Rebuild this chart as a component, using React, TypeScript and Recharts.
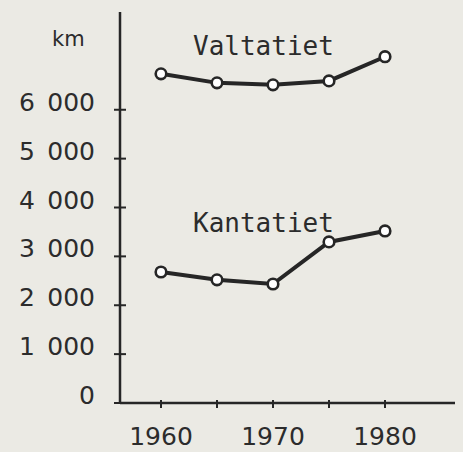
import React from 'react';
import { LineChart, Line, XAxis, YAxis } from 'recharts';

// Years along the bottom axis, values in km
const YEARS = [1960, 1965, 1970, 1975, 1980];
const VALTATIET = [6735, 6550, 6510, 6590, 7085];
const KANTATIET = [2680, 2520, 2435, 3295, 3520];

const Y_TICKS = [0, 1000, 2000, 3000, 4000, 5000, 6000];
const X_TICKS = [1960, 1965, 1970, 1975, 1980];
const X_LABELS = [1960, 1970, 1980];

const INK = '#262626';
const TEXT = '#2c2c2c';
const PAPER = '#ebeae4';

const data = YEARS.map((year, i) => ({
  year,
  valtatiet: VALTATIET[i],
  kantatiet: KANTATIET[i],
}));

// "6 000" style with a wide gap between thousands
const formatKm = (v: number) =>
  v >= 1000 ? `${Math.floor(v / 1000)}\u2002${String(v % 1000).padStart(3, '0')}` : String(v);

const YTick = ({ x, y, payload }: any) => (
  <g>
    <line x1={x - 6} x2={x + 6} y1={y} y2={y} stroke={INK} strokeWidth={2} />
    <text
      x={x - 25}
      y={y + 1}
      textAnchor="end"
      fill={TEXT}
      fontSize={25}
      fontFamily="DejaVu Sans"
    >
      {formatKm(payload.value)}
    </text>
  </g>
);

const XTick = ({ x, y, payload }: any) => (
  <g>
    <line x1={x} x2={x} y1={y - 3} y2={y + 5} stroke={INK} strokeWidth={2} />
    {X_LABELS.includes(payload.value) && (
      <text
        x={x}
        y={y + 42}
        textAnchor="middle"
        fill={TEXT}
        fontSize={25}
        fontFamily="DejaVu Sans"
      >
        {payload.value}
      </text>
    )}
  </g>
);

const labelStyle: React.CSSProperties = {
  position: 'absolute',
  fontFamily: 'DejaVu Sans Mono',
  fontSize: 26,
  lineHeight: '26px',
  color: TEXT,
  whiteSpace: 'pre',
};

export default function App() {
  return (
    <div
      style={{
        position: 'fixed',
        left: 0,
        top: 0,
        width: 463,
        height: 452,
        background: PAPER,
      }}
    >
      <LineChart width={463} height={452} data={data} margin={{ top: 12, right: 8, left: 0, bottom: 0 }}>
        <XAxis
          dataKey="year"
          type="number"
          domain={[1956.34, 1986.25]}
          allowDataOverflow
          ticks={X_TICKS}
          height={49}
          tickSize={0}
          tickMargin={0}
          tickLine={false}
          tick={<XTick />}
          axisLine={{ stroke: INK, strokeWidth: 2.5 }}
        />
        <YAxis
          type="number"
          domain={[0, 8000]}
          allowDataOverflow
          ticks={Y_TICKS}
          width={120}
          tickSize={0}
          tickMargin={0}
          tickLine={false}
          tick={<YTick />}
          axisLine={{ stroke: INK, strokeWidth: 2.5 }}
        />
        <Line
          dataKey="valtatiet"
          stroke={INK}
          strokeWidth={4}
          dot={{ r: 5.3, fill: '#ffffff', stroke: INK, strokeWidth: 2.6 }}
          isAnimationActive={false}
        />
        <Line
          dataKey="kantatiet"
          stroke={INK}
          strokeWidth={4}
          dot={{ r: 5.3, fill: '#ffffff', stroke: INK, strokeWidth: 2.6 }}
          isAnimationActive={false}
        />
      </LineChart>
      <div style={{ ...labelStyle, fontFamily: 'DejaVu Sans', fontSize: 21, lineHeight: '21px', left: 52, top: 29 }}>km</div>
      <div style={{ ...labelStyle, left: 193, top: 33 }}>Valtatiet</div>
      <div style={{ ...labelStyle, left: 193, top: 210 }}>Kantatiet</div>
    </div>
  );
}
